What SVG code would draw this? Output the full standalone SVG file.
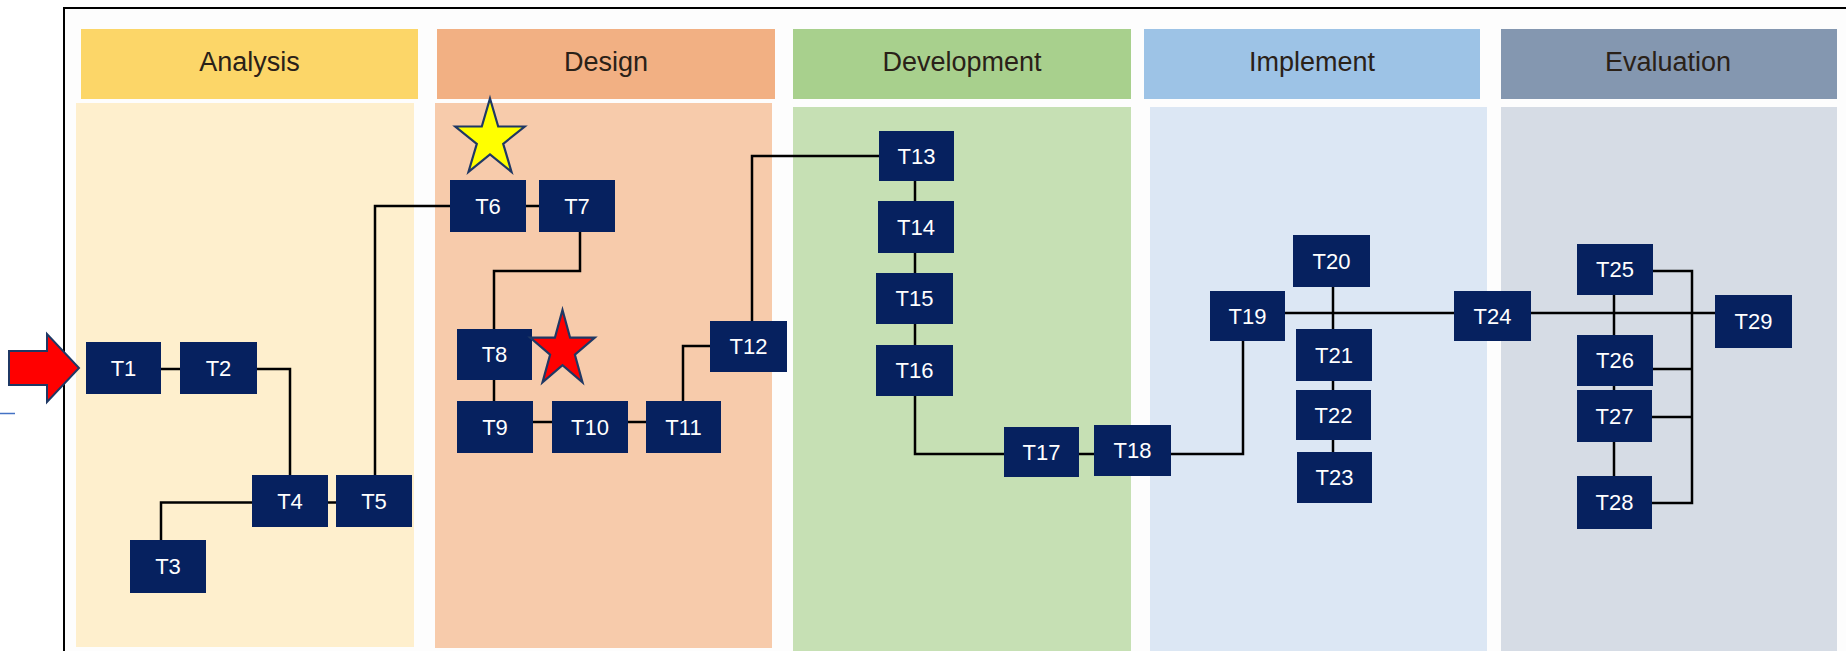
<svg xmlns="http://www.w3.org/2000/svg" width="1846" height="651" viewBox="0 0 1846 651">
<style>
.hdr{font-family:"Liberation Sans",Arial,sans-serif;font-size:27px;fill:#2a2118;text-anchor:middle}
.node rect{fill:#06215F}
.node text{font-family:"Liberation Sans",Arial,sans-serif;font-size:22px;fill:#ffffff;text-anchor:middle}
.conn path{fill:none;stroke:#000;stroke-width:2.5}
</style>
<rect x="0" y="0" width="1846" height="651" fill="#ffffff"/>
<rect x="64" y="8" width="1800" height="700" fill="#fdfdfd" stroke="#000" stroke-width="2"/>
<g id="lanes">
<rect x="81" y="29" width="337" height="70" fill="#FCD668"/>
<rect x="76" y="103" width="338" height="544" fill="#FEEFCD"/>
<text class="hdr" x="249.5" y="71">Analysis</text>
<rect x="437" y="29" width="338" height="70" fill="#F2B083"/>
<rect x="435" y="103" width="337" height="545" fill="#F7CBAB"/>
<text class="hdr" x="606" y="71">Design</text>
<rect x="793" y="29" width="338" height="70" fill="#A8D08D"/>
<rect x="793" y="107" width="338" height="550" fill="#C6E0B4"/>
<text class="hdr" x="962" y="71">Development</text>
<rect x="1144" y="29" width="336" height="70" fill="#9DC3E6"/>
<rect x="1150" y="107" width="337" height="550" fill="#DCE7F4"/>
<text class="hdr" x="1312" y="71">Implement</text>
<rect x="1501" y="29" width="336" height="70" fill="#8497B0"/>
<rect x="1501" y="107" width="336" height="550" fill="#D6DCE5"/>
<text class="hdr" x="1668" y="71">Evaluation</text>
</g>
<g id="connectors" class="conn">
<path d="M161,369 H180"/>
<path d="M257,369 H290 V475"/>
<path d="M161,540 V502.5 H252"/>
<path d="M328,502.5 H336"/>
<path d="M375,475 V206 H450"/>
<path d="M526,206 H539"/>
<path d="M580,232 V271 H494 V329"/>
<path d="M494,380 V401"/>
<path d="M533,422 H552"/>
<path d="M628,422 H646"/>
<path d="M683,401 V346 H710"/>
<path d="M752,321 V156 H879"/>
<path d="M915,181 V201"/>
<path d="M915,253 V273"/>
<path d="M915,324 V345"/>
<path d="M915,396 V454 H1004"/>
<path d="M1079,454 H1094"/>
<path d="M1171,454 H1243 V341"/>
<path d="M1285,313 H1454"/>
<path d="M1333,287 V329"/>
<path d="M1333,381 V390"/>
<path d="M1333,440 V452"/>
<path d="M1531,313 H1715"/>
<path d="M1614,295 V335"/>
<path d="M1614,386 V390"/>
<path d="M1614,442 V476"/>
<path d="M1653,271 H1692 V503 H1652"/>
<path d="M1653,369 H1692"/>
<path d="M1652,417 H1692"/>
</g>
<g id="T1" class="node"><rect x="86" y="342" width="75" height="52"/><text x="123.5" y="376">T1</text></g>
<g id="T2" class="node"><rect x="180" y="342" width="77" height="52"/><text x="218.5" y="376">T2</text></g>
<g id="T3" class="node"><rect x="130" y="540" width="76" height="53"/><text x="168" y="574">T3</text></g>
<g id="T4" class="node"><rect x="252" y="475" width="76" height="52"/><text x="290" y="509">T4</text></g>
<g id="T5" class="node"><rect x="336" y="475" width="76" height="52"/><text x="374" y="509">T5</text></g>
<g id="T6" class="node"><rect x="450" y="180" width="76" height="52"/><text x="488" y="214">T6</text></g>
<g id="T7" class="node"><rect x="539" y="180" width="76" height="52"/><text x="577" y="214">T7</text></g>
<g id="T8" class="node"><rect x="457" y="329" width="75" height="51"/><text x="494.5" y="362">T8</text></g>
<g id="T9" class="node"><rect x="457" y="401" width="76" height="52"/><text x="495" y="435">T9</text></g>
<g id="T10" class="node"><rect x="552" y="401" width="76" height="52"/><text x="590" y="435">T10</text></g>
<g id="T11" class="node"><rect x="646" y="401" width="75" height="52"/><text x="683.5" y="435">T11</text></g>
<g id="T12" class="node"><rect x="710" y="321" width="77" height="51"/><text x="748.5" y="354">T12</text></g>
<g id="T13" class="node"><rect x="879" y="131" width="75" height="50"/><text x="916.5" y="164">T13</text></g>
<g id="T14" class="node"><rect x="878" y="201" width="76" height="52"/><text x="916" y="235">T14</text></g>
<g id="T15" class="node"><rect x="876" y="273" width="77" height="51"/><text x="914.5" y="306">T15</text></g>
<g id="T16" class="node"><rect x="876" y="345" width="77" height="51"/><text x="914.5" y="378">T16</text></g>
<g id="T17" class="node"><rect x="1004" y="427" width="75" height="50"/><text x="1041.5" y="460">T17</text></g>
<g id="T18" class="node"><rect x="1094" y="425" width="77" height="51"/><text x="1132.5" y="458">T18</text></g>
<g id="T19" class="node"><rect x="1210" y="291" width="75" height="50"/><text x="1247.5" y="324">T19</text></g>
<g id="T20" class="node"><rect x="1293" y="235" width="77" height="52"/><text x="1331.5" y="269">T20</text></g>
<g id="T21" class="node"><rect x="1296" y="329" width="76" height="52"/><text x="1334" y="363">T21</text></g>
<g id="T22" class="node"><rect x="1296" y="390" width="75" height="50"/><text x="1333.5" y="423">T22</text></g>
<g id="T23" class="node"><rect x="1297" y="452" width="75" height="51"/><text x="1334.5" y="485">T23</text></g>
<g id="T24" class="node"><rect x="1454" y="291" width="77" height="50"/><text x="1492.5" y="324">T24</text></g>
<g id="T25" class="node"><rect x="1577" y="244" width="76" height="51"/><text x="1615" y="277">T25</text></g>
<g id="T26" class="node"><rect x="1577" y="335" width="76" height="51"/><text x="1615" y="368">T26</text></g>
<g id="T27" class="node"><rect x="1577" y="390" width="75" height="52"/><text x="1614.5" y="424">T27</text></g>
<g id="T28" class="node"><rect x="1577" y="476" width="75" height="53"/><text x="1614.5" y="510">T28</text></g>
<g id="T29" class="node"><rect x="1715" y="295" width="77" height="53"/><text x="1753.5" y="329">T29</text></g>
<g id="yellow-star"><polygon points="490,98.5 498.2,126.5 524.7,126.5 503.2,143.8 511.5,171.8 490,154.4 468.5,171.8 476.8,143.8 455.3,126.5 481.8,126.5" fill="#FFFF00" stroke="#1F3864" stroke-width="2.2"/></g>
<g id="red-star"><polygon points="562.5,310 570.1,337.7 594.8,337.6 574.9,354.7 582.5,382.4 562.5,365.2 542.5,382.4 550.1,354.7 530.2,337.6 554.9,337.7" fill="#FF0000" stroke="#1F3864" stroke-width="2.2"/></g>
<g id="red-arrow"><polygon points="9,351 47,351 47,334 79,368 47,402 47,385 9,385" fill="#FF0000" stroke="#1F3864" stroke-width="2"/></g>
<line x1="0" y1="413.5" x2="15" y2="413.5" stroke="#4472C4" stroke-width="1.5"/>
</svg>
